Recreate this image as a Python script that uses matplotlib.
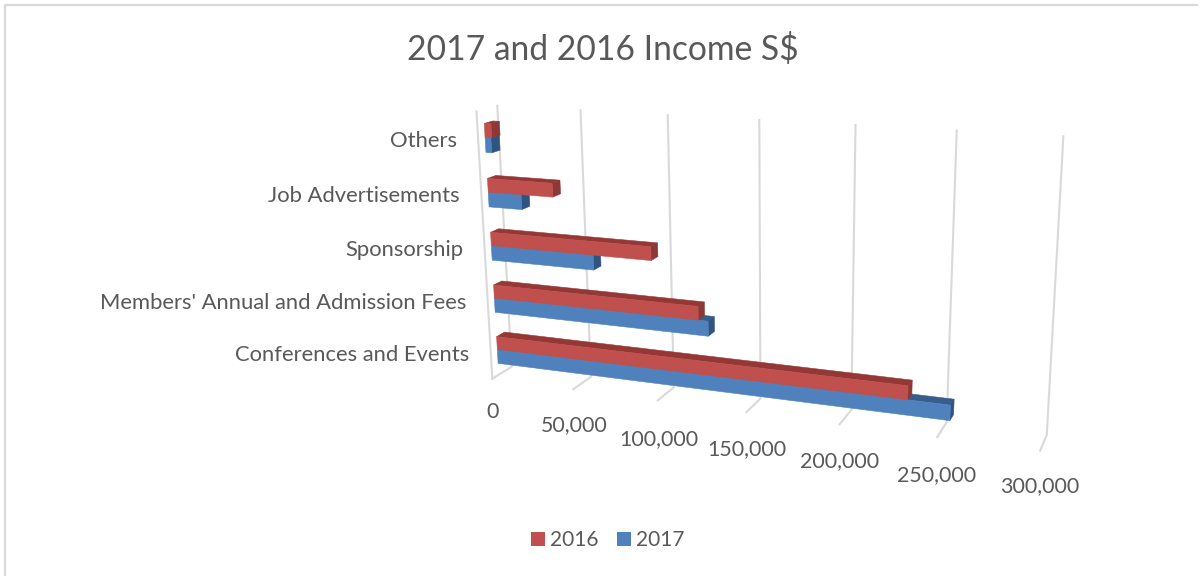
import matplotlib
matplotlib.use("Agg")
import matplotlib.pyplot as plt
from matplotlib.patches import Polygon, Patch
import numpy as np

plt.rcParams['font.family'] = ['Lato', 'DejaVu Sans']

categories = ["Conferences and Events", "Members' Annual and Admission Fees",
              "Sponsorship", "Job Advertisements", "Others"]
income_2016 = [233000, 121000, 95000, 39000, 4000]
income_2017 = [254500, 126500, 61500, 20000, 3500]
ticks = [0, 50000, 100000, 150000, 200000, 250000, 300000]

W, H = 1201, 576
VMAX = 300000.0
TEXT = '#595959'
GRID = '#d9d9d9'

# where the walls of the 3d box land on the canvas, one row per tick
top_back = [(497, 106), (580, 111), (668, 115), (759, 120), (856, 125), (957, 131), (1063, 136)]
bot_back = [(512, 366), (590, 377), (674, 387), (760, 398), (852, 410), (947, 422), (1047, 435)]
bot_front = [(493, 379), (573, 390), (658, 401), (745, 412), (840, 425), (937, 437), (1040, 450)]
side_top = (477, 110)

# solve the camera (3x4 matrix, last entry 1) with least squares
world = []
pix = []
for i, t in enumerate(ticks):
    world += [(t / VMAX, 1, 1), (t / VMAX, 1, 0), (t / VMAX, 0, 0)]
    pix += [top_back[i], bot_back[i], bot_front[i]]
world.append((0, 0, 1))
pix.append(side_top)
A = []
b = []
for (x, y, z), (u, w) in zip(world, pix):
    A.append([x, y, z, 1, 0, 0, 0, 0, -u * x, -u * y, -u * z])
    b.append(u)
    A.append([0, 0, 0, 0, x, y, z, 1, -w * x, -w * y, -w * z])
    b.append(w)
cam = np.append(np.linalg.lstsq(np.array(A), np.array(b), rcond=None)[0], 1).reshape(3, 4)


def project(value, depth, height):
    p = cam @ np.array([value / VMAX, depth, height, 1.0])
    return p[0] / p[2], p[1] / p[2]


def draw_bar(ax, value, row, low, high, front, top, side):
    d0, d1 = 0.33, 0.74
    h0 = row * 0.2 + low
    h1 = row * 0.2 + high
    # edges in the face colour close the hairline seams between faces
    ax.add_patch(Polygon([project(0, d0, h1), project(0, d1, h1),
                          project(value, d1, h1), project(value, d0, h1)],
                         fc=top, ec=top, lw=0.4, zorder=3))
    ax.add_patch(Polygon([project(value, d0, h0), project(value, d1, h0),
                          project(value, d1, h1), project(value, d0, h1)],
                         fc=side, ec=side, lw=0.4, zorder=3))
    ax.add_patch(Polygon([project(0, d0, h0), project(value, d0, h0),
                          project(value, d0, h1), project(0, d0, h1)],
                         fc=front, ec=front, lw=0.4, zorder=3))


fig = plt.figure(figsize=(W / 100, H / 100), dpi=100)
ax = fig.add_axes([0, 0, 1, 1])
ax.set_xlim(0, W)
ax.set_ylim(H, 0)
ax.axis('off')

# chart frame, only top and left show
ax.plot([5, 5, 1197], [H, 5, 5], color=GRID, lw=1.6, zorder=1)

for t in ticks:
    pts = [project(t, 1, 1), project(t, 1, 0), project(t, 0, 0)]
    ax.plot(*zip(*pts), color=GRID, lw=1.5, zorder=2, solid_joinstyle='miter')
pts = [project(0, 0, 1), project(0, 0, 0)]
ax.plot(*zip(*pts), color=GRID, lw=1.5, zorder=2)

for row in range(len(categories)):
    draw_bar(ax, income_2017[row], row, 0.045, 0.10, '#4f81bd', '#385d8a', '#2f5480')
    draw_bar(ax, income_2016[row], row, 0.10, 0.15, '#c0504d', '#953735', '#8c3836')

cat_pos = [(469, 355), (466, 303), (463, 250), (460, 196), (457, 141)]
for name, (x, y) in zip(categories, cat_pos):
    ax.text(x, y, name, ha='right', va='center', fontsize=15.8, color=TEXT)

tick_pos = [(493, 412), (574, 425), (659, 439), (747, 449), (840, 461), (937, 475), (1040, 486)]
for t, (x, y) in zip(ticks, tick_pos):
    ax.text(x, y, f'{t:,}', ha='center', va='center', fontsize=15.4, color=TEXT)

ax.text(603, 50, '2017 and 2016 Income S$', ha='center', va='center', fontsize=24.2, color=TEXT)

handles = [Patch(fc='#c0504d', label='2016'), Patch(fc='#4f81bd', label='2017')]
ax.legend(handles=handles, ncol=2, loc='center', bbox_to_anchor=(608 / W, 1 - 540 / H),
          frameon=False, fontsize=15, labelcolor=TEXT, handlelength=0.67, handleheight=0.67,
          handletextpad=0.24, columnspacing=0.87)

fig.savefig("out.png", dpi=100)
